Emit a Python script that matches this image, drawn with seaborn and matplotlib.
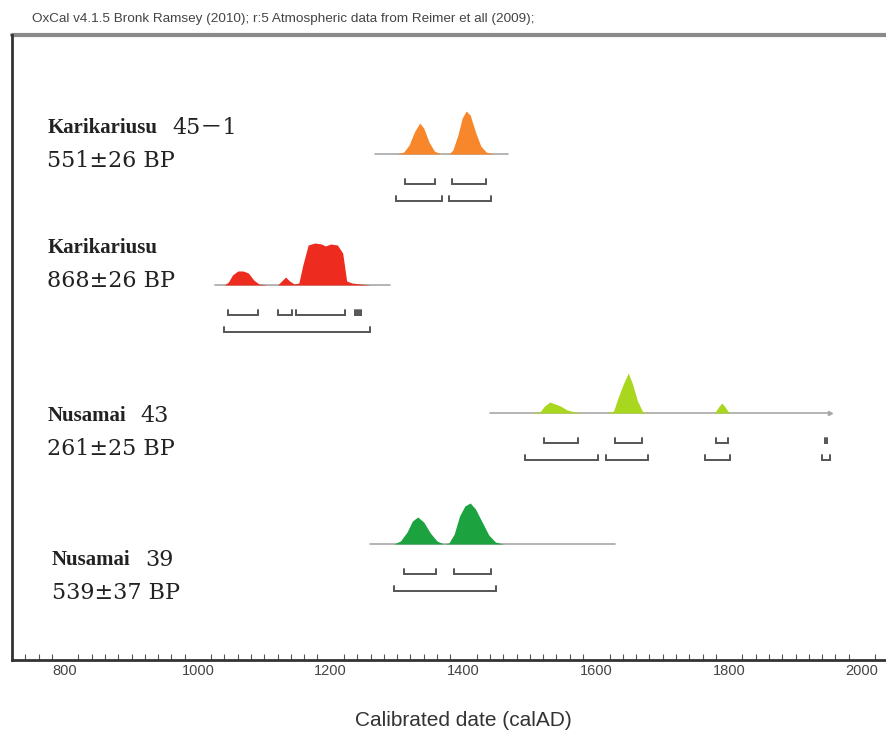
import numpy as np
import matplotlib
matplotlib.use("Agg")
import matplotlib.pyplot as plt
import seaborn as sns

sample_names = ["Karikariusu", "Karikariusu", "Nusamai", "Nusamai"]
sample_ids = ["45－1", "", "43", "39"]
bp_ages = ["551±26 BP", "868±26 BP", "261±25 BP", "539±37 BP"]
colors = ["#f7872a", "#ee2b1f", "#a9d61f", "#1ca23f"]

# probability curves (year, relative height)
orange_years = [1267, 1300, 1310, 1318, 1326, 1334, 1340, 1348, 1356, 1366,
                1378, 1384, 1392, 1398, 1404, 1410, 1418, 1426, 1434, 1445, 1467]
orange_prob = [0, 0, 2, 9, 22, 31, 26, 12, 3, 0,
               0, 4, 20, 36, 43, 39, 22, 8, 2, 0, 0]

red_years = [1026, 1040, 1046, 1052, 1060, 1068, 1076, 1084, 1092, 1105,
             1120, 1126, 1132, 1138, 1145, 1152, 1158, 1166, 1176, 1186,
             1192, 1200, 1210, 1218, 1224, 1232, 1245, 1260, 1289]
red_prob = [0, 0, 3, 10, 14, 14, 12, 5, 1, 0,
            0, 4, 8, 4, 1, 2, 20, 40, 42, 41,
            39, 41, 40, 32, 4, 2, 1, 0, 0]

yellow_years = [1440, 1500, 1515, 1522, 1530, 1538, 1546, 1556, 1568, 1580,
                1615, 1626, 1632, 1640, 1648, 1654, 1662, 1670, 1680, 1760,
                1778, 1784, 1789, 1794, 1800, 1850, 1952]
yellow_prob = [0, 0, 1, 7, 11, 9, 7, 3, 1, 0,
               0, 2, 14, 28, 40, 30, 12, 1, 0, 0,
               0, 6, 10, 6, 0, 0, 0]

green_years = [1259, 1295, 1305, 1315, 1323, 1331, 1340, 1350, 1360, 1370,
               1378, 1386, 1394, 1402, 1410, 1418, 1428, 1438, 1448, 1460, 1628]
green_prob = [0, 0, 3, 12, 23, 27, 22, 11, 3, 0,
              1, 10, 28, 38, 41, 35, 22, 9, 2, 0, 0]

curve_years = [orange_years, red_years, yellow_years, green_years]
curve_prob = [orange_prob, red_prob, yellow_prob, green_prob]

# 68.2% and 95.4% ranges (calAD)
range68 = [
    [(1312, 1357), (1383, 1434)],
    [(1045, 1090), (1121, 1142), (1148, 1222), (1236, 1239), (1243, 1246)],
    [(1521, 1572), (1628, 1669), (1780, 1798), (1944, 1948)],
    [(1310, 1358), (1386, 1441)],
]
range95 = [
    [(1298, 1368), (1378, 1441)],
    [(1039, 1259)],
    [(1493, 1602), (1615, 1678), (1764, 1801), (1940, 1952)],
    [(1295, 1449)],
]

title = "OxCal v4.1.5 Bronk Ramsey (2010); r:5 Atmospheric data from Reimer et all (2009);"
xlabel = "Calibrated date (calAD)"

# ---- layout (pixel-like units, y up) ----
baselines = [506, 375, 247, 116]
label_y = [532, 412, 244, 100]
label_x = [773, 773, 773, 780]
off68 = 30
off95 = 47

sns.set_theme(style="white")
plt.rcParams["font.family"] = ["Liberation Sans", "DejaVu Sans"]

fig = plt.figure(figsize=(8.86, 7.31), dpi=100)
ax = fig.add_axes([12 / 886, 1 - 660 / 731, 1.02, (660 - 35) / 731])
ax.set_xlim(720, 2081)
ax.set_ylim(0, 625)

serif_bold = ["Liberation Serif", "Noto Sans CJK JP"]
serif = ["DejaVu Serif", "Noto Sans CJK JP"]

for i in range(4):
    b = baselines[i]
    yrs = np.array(curve_years[i])
    p = np.array(curve_prob[i]) + b
    # faint baseline
    ax.plot([yrs[0], yrs[-1]], [b, b], color="#a8a8a8", lw=1.2, zorder=1)
    ax.fill_between(yrs, b, p, color=colors[i], lw=0, zorder=2)
    # range brackets
    for rng, off in [(range68[i], off68), (range95[i], off95)]:
        y0 = b - off
        for a, c in rng:
            ax.plot([a, a, c, c], [y0 + 5, y0, y0, y0 + 5],
                    color="#555555", lw=1.4, solid_joinstyle="miter", zorder=3)

# arrow tip on the Nusamai 43 baseline
ax.plot([1952], [baselines[2]], marker=">", ms=3, color="#a8a8a8", zorder=1)

# sample labels
for i in range(4):
    ly = label_y[i]
    t = ax.text(label_x[i], ly, sample_names[i], fontsize=15, fontweight="bold",
                family=serif_bold, color="#222222", va="center", ha="left")
    if sample_ids[i]:
        fig.canvas.draw()
        bb = t.get_window_extent()
        xd = ax.transData.inverted().transform((bb.x1 + 15, 0))[0]
        ax.text(xd, ly, sample_ids[i], fontsize=16, family=serif,
                color="#222222", va="center", ha="left")
    ax.text(label_x[i], ly - 33, bp_ages[i], fontsize=16, family=serif,
            color="#222222", va="center", ha="left")

# axes styling
for s in ["top", "right"]:
    ax.spines[s].set_visible(False)
ax.axhline(625, color="#8a8a8a", lw=3, clip_on=False)
ax.spines["left"].set_color("#333333")
ax.spines["left"].set_linewidth(2)
ax.spines["bottom"].set_color("#333333")
ax.spines["bottom"].set_linewidth(2)

ax.set_xticks(np.arange(800, 2001, 200))
ax.set_xticks(np.arange(720, 2081, 20), minor=True)
ax.tick_params(axis="x", which="major", direction="in", length=10, width=1,
               color="#333333", labelsize=10.5, labelcolor="#444444", pad=3)
ax.tick_params(axis="x", which="minor", direction="in", length=4, width=0.8,
               color="#555555", bottom=True)
ax.set_yticks([])
ax.set_xlabel(xlabel, fontsize=15, color="#333333", labelpad=24)

fig.text(32 / 886, 1 - 19 / 731, title, fontsize=9.7, color="#444444",
         va="center", ha="left")

fig.savefig("out.png", dpi=100)
